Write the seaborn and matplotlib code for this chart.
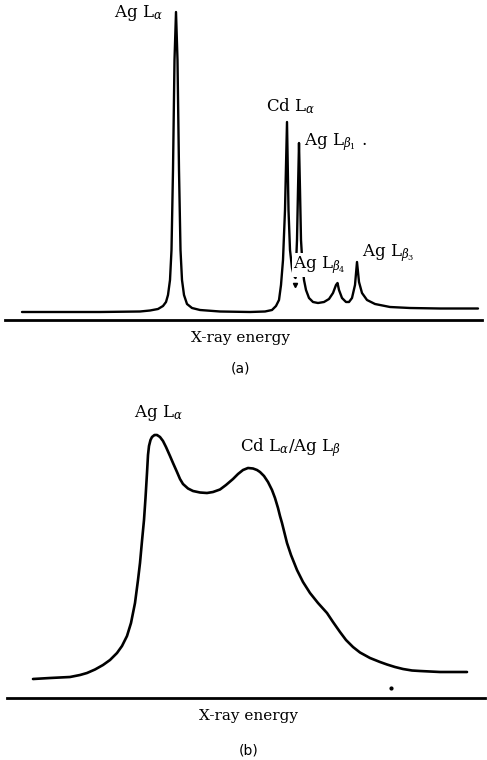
import matplotlib
matplotlib.use("Agg")
import matplotlib.pyplot as plt
import seaborn as sns
import pandas as pd

# (a) high resolution spectrum, energy in arbitrary units, intensity above baseline axis
energy_a = [22, 60, 100, 140, 150, 158, 163, 166, 168, 170, 171.5, 173, 174.5, 176,
            177.5, 179, 180.5, 182, 184, 187, 192, 200, 220, 250, 265, 272, 276, 279,
            281, 283, 285, 287, 288.5, 290, 292, 294, 295.5, 297, 298, 299, 300, 301,
            302.5, 304, 306, 309, 313, 318, 324, 329, 333, 336, 337.5, 339, 342, 346,
            349, 352, 355, 357, 359, 362, 367, 375, 390, 410, 440, 478]
counts_a = [8, 8, 8, 8.5, 9.5, 11, 14, 18, 25, 40, 70, 150, 260, 308,
            260, 150, 70, 40, 25, 16, 12, 10, 8.5, 8, 8.5, 10, 14, 20,
            35, 60, 110, 198, 110, 70, 52, 44, 42, 80, 130, 177, 130, 80,
            55, 40, 30, 22, 18, 17, 18, 21, 27, 35, 37, 30, 22, 18,
            18, 22, 35, 58, 38, 27, 20, 16, 13, 12, 11.5, 11.5]

# (b) low resolution spectrum of the same sample
energy_b = [33, 50, 60, 70, 80, 87, 95, 103, 110, 117, 122, 127, 131, 135, 138,
            140, 142, 144, 145.5, 147, 148, 149, 150.5, 152, 154.5, 157, 160, 163,
            166, 170, 173, 177, 180, 183, 188, 193, 200, 207, 213, 220, 226, 233,
            238, 243, 248, 253, 257, 260, 264, 268, 272, 275, 278, 280, 282, 284,
            287, 291, 297, 303, 310, 318, 327, 333, 340, 346, 353, 360, 370, 380,
            387, 395, 403, 412, 420, 440, 467]
counts_b = [19, 20, 20.5, 21, 23, 25, 28.5, 33, 38, 45, 52, 62, 75, 95, 118,
            135, 157, 178, 200, 225, 243, 252, 258, 261, 263, 263, 261, 257,
            251, 242, 235, 226, 219, 214, 209.5, 207, 205.5, 205, 206, 208.5, 213, 219,
            224, 228, 230, 229.5, 228, 226, 222, 216, 208, 200, 190, 182, 175, 167,
            155, 143, 128, 116, 105, 95, 85, 76, 66, 58, 51, 45.5, 40, 36,
            33.5, 31, 29, 27.5, 27, 26, 26]

labels_a = [r"Ag L$_{\alpha}$", r"Cd L$_{\alpha}$", r"Ag L$_{\beta_1}$ .",
            r"Ag L$_{\beta_4}$", r"Ag L$_{\beta_3}$"]
labels_b = [r"Ag L$_{\alpha}$", r"Cd L$_{\alpha}$/Ag L$_{\beta}$"]

# small printing marks in the original
mark_a = (295, 35)
mark_b = (391, 10)

sns.set_style("white")
plt.rcParams["font.family"] = ["DejaVu Serif", "DejaVu Sans"]
plt.rcParams["mathtext.fontset"] = "dejavuserif"
plt.rcParams["text.color"] = "black"
plt.rcParams["axes.labelcolor"] = "black"

fig = plt.figure(figsize=(4.87, 7.6), dpi=100)
ax_a = fig.add_axes([5 / 487, 1 - 320 / 760, 477 / 487, 312 / 760])
ax_b = fig.add_axes([7 / 487, 1 - 698 / 760, 478 / 487, 300 / 760])

df_a = pd.DataFrame({"energy": energy_a, "counts": counts_a})
df_b = pd.DataFrame({"energy": energy_b, "counts": counts_b})

sns.lineplot(data=df_a, x="energy", y="counts", ax=ax_a, color="black",
             lw=1.7, estimator=None, sort=False)
sns.lineplot(data=df_b, x="energy", y="counts", ax=ax_b, color="black",
             lw=1.9, estimator=None, sort=False)

ax_a.set_xlim(5, 482)
ax_a.set_ylim(0, 312)
ax_b.set_xlim(7, 485)
ax_b.set_ylim(0, 300)

for ax in (ax_a, ax_b):
    ax.set_xticks([])
    ax.set_yticks([])
    ax.set_ylabel("")
    for side in ("top", "left", "right"):
        ax.spines[side].set_visible(False)
    ax.spines["bottom"].set_linewidth(2)
    ax.spines["bottom"].set_color("black")
    ax.patch.set_alpha(0)

fs = 12
ax_a.text(138, 307, labels_a[0], ha="center", va="center", fontsize=fs)
ax_a.text(291, 214, labels_a[1], ha="center", va="center", fontsize=fs)
ax_a.text(304, 178, labels_a[2], ha="left", va="center", fontsize=fs)
ax_a.text(293, 55, labels_a[3], ha="left", va="center", fontsize=fs,
          bbox=dict(facecolor="white", edgecolor="none", pad=0.5))
ax_a.text(362, 67, labels_a[4], ha="left", va="center", fontsize=fs)
ax_a.plot(*mark_a, marker="v", ms=3, color="black")

ax_b.text(158, 285, labels_b[0], ha="center", va="center", fontsize=fs)
ax_b.text(291, 250, labels_b[1], ha="center", va="center", fontsize=fs)
ax_b.plot(*mark_b, marker="o", ms=2, color="black")

ax_a.set_xlabel("X-ray energy", fontsize=11)
ax_a.xaxis.set_label_coords(0.493, -0.035)
ax_b.set_xlabel("X-ray energy", fontsize=11)
ax_b.xaxis.set_label_coords(0.506, -0.037)

fig.text(241 / 487, 1 - 369 / 760, "(a)", ha="center", va="center",
         fontsize=10, family="DejaVu Sans")
fig.text(249 / 487, 1 - 750 / 760, "(b)", ha="center", va="center",
         fontsize=10, family="DejaVu Sans")

fig.savefig("out.png", dpi=100, facecolor="white")
